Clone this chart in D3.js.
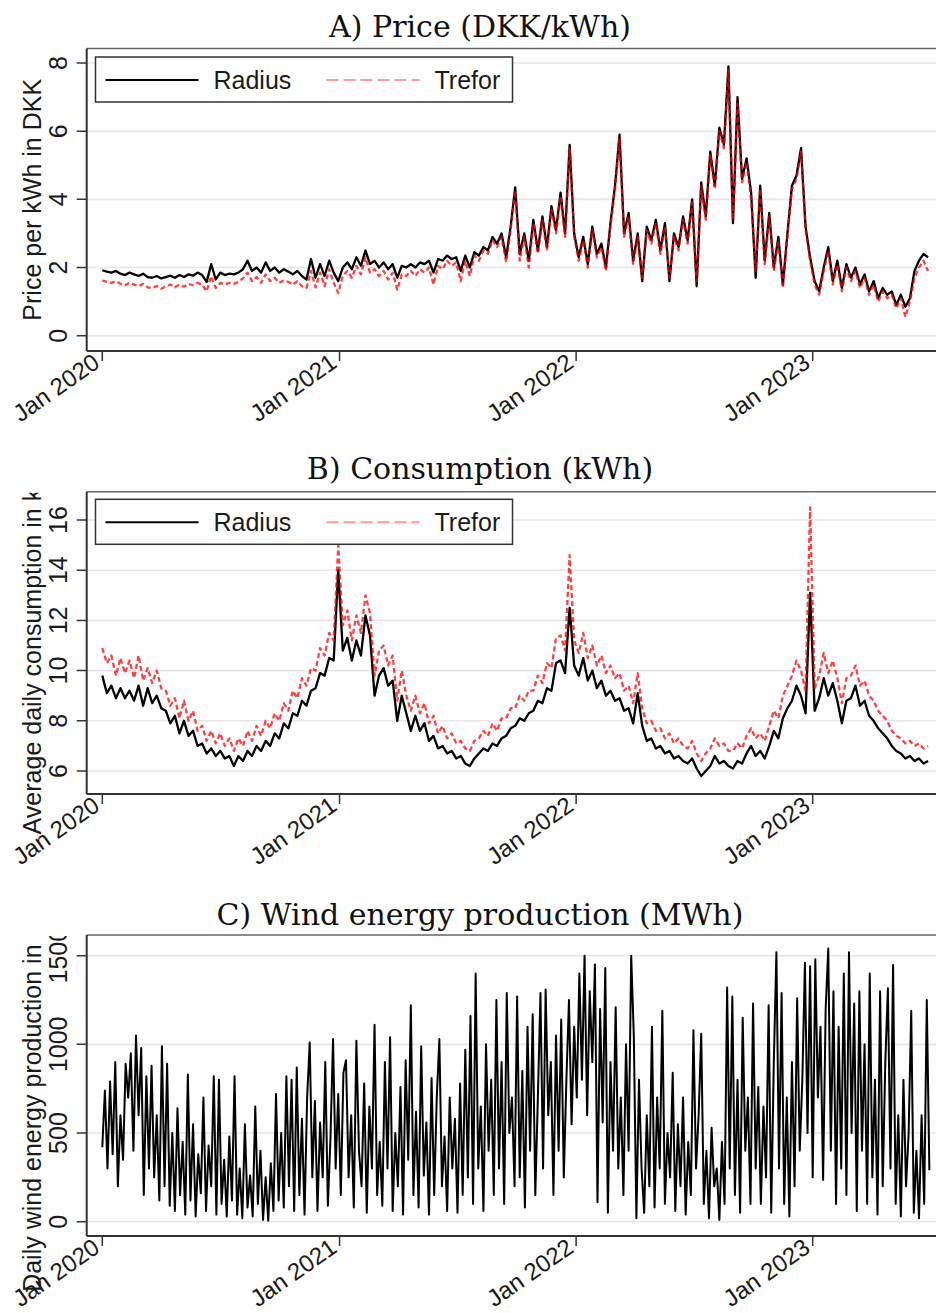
<!DOCTYPE html>
<html>
<head>
<meta charset="utf-8">
<script src="https://cdn.jsdelivr.net/npm/d3@7"></script>
<style>
  body { margin: 0; background: #fff; }
  svg { display: block; }
</style>
</head>
<body>
<svg id="chart" width="936" height="1313"></svg>
<script>
// Three stacked Stata-style panels: price, consumption, wind. Values read off the
// reference by eye: price / consumption sampled weekly, wind every 4 days.

const START = Date.UTC(2020, 0, 1);
const WEEK = 7, WIND_STEP = 4;

const yearTicks = [2020, 2021, 2022, 2023];
const priceTicks = [0, 2, 4, 6, 8];
const consTicks = [6, 8, 10, 12, 14, 16];
const windTicks = [0, 500, 1000, 1500];
const seriesNames = ["Radius", "Trefor"];

// A) price, DKK/kWh, weekly from 1 Jan 2020
const priceRadius = [
  1.92,1.88,1.85,1.9,1.82,1.78,1.85,1.8,1.75,1.82,1.72,
  1.7,1.75,1.68,1.72,1.76,1.7,1.78,1.72,1.8,1.76,
  1.85,1.78,1.58,2.1,1.65,1.85,1.78,1.82,1.8,1.85,
  1.95,2.2,1.9,2.0,1.85,2.15,1.9,2.0,1.85,1.95,
  1.88,1.8,1.9,1.75,1.65,2.25,1.7,2.1,1.75,2.2,
  1.85,1.6,2.0,2.15,1.95,2.3,2.05,2.5,2.1,2.2,
  2.0,2.15,1.95,2.1,1.7,2.05,2.0,2.1,2.0,2.15,
  2.1,2.2,1.85,2.25,2.2,2.35,2.25,2.3,1.9,2.35,
  2.0,2.45,2.35,2.6,2.5,2.9,2.7,3.0,2.3,3.2,
  4.35,2.4,3.0,2.2,3.4,2.5,3.5,2.6,3.8,3.1,
  4.2,3.0,5.6,3.0,2.3,2.9,2.1,3.2,2.4,2.7,
  2.0,3.3,4.4,5.9,3.0,3.6,2.2,3.0,1.6,3.2,
  2.8,3.4,2.5,3.3,1.6,3.0,2.6,3.5,2.8,4.0,
  1.45,4.5,3.5,5.4,4.4,6.1,5.6,7.9,3.3,7.0,
  4.6,5.2,4.2,1.7,4.4,2.2,3.6,2.0,2.9,1.5,
  3.0,4.4,4.7,5.5,3.2,2.3,1.6,1.3,2.0,2.6,
  1.6,2.2,1.4,2.1,1.7,2.0,1.5,1.8,1.3,1.6,
  1.1,1.4,1.2,1.3,0.9,1.2,0.85,1.1,1.9,2.2,2.4,2.3
];
const priceTrefor = [
  1.62,1.58,1.55,1.6,1.52,1.48,1.55,1.5,1.45,1.52,1.42,
  1.4,1.46,1.38,1.45,1.5,1.42,1.5,1.44,1.52,1.48,
  1.55,1.5,1.3,1.75,1.4,1.55,1.5,1.55,1.52,1.58,
  1.68,1.85,1.6,1.72,1.55,1.8,1.6,1.7,1.55,1.62,
  1.58,1.5,1.6,1.45,1.4,1.9,1.42,1.85,1.45,1.95,
  1.55,1.25,1.75,1.9,1.7,2.05,1.8,2.3,1.85,1.95,
  1.75,1.9,1.65,1.85,1.35,1.8,1.75,1.9,1.75,1.95,
  1.85,2.0,1.5,2.05,1.95,2.2,2.05,2.15,1.6,2.2,
  1.75,2.35,2.2,2.5,2.4,2.8,2.6,2.9,2.15,3.1,
  4.25,2.2,2.9,2.0,3.3,2.4,3.4,2.5,3.7,3.0,
  4.1,2.9,5.5,2.9,2.2,2.8,2.0,3.1,2.3,2.6,
  1.9,3.2,4.3,5.8,2.9,3.5,2.1,2.9,1.7,3.1,
  2.7,3.3,2.4,3.2,1.7,2.9,2.5,3.4,2.7,3.9,
  1.6,4.4,3.4,5.3,4.3,6.0,5.5,7.8,3.4,6.8,
  4.5,5.1,4.0,1.9,4.3,2.1,3.5,1.9,2.8,1.4,
  2.9,4.3,4.6,5.4,3.1,2.2,1.5,1.2,1.9,2.5,
  1.5,2.1,1.3,2.0,1.6,1.9,1.4,1.7,1.2,1.5,
  1.0,1.3,1.1,1.2,0.8,1.1,0.55,1.0,1.7,2.0,2.2,1.9
];

// B) average daily consumption, kWh, weekly
const consRadius = [
  9.8,9.1,9.4,8.9,9.3,8.9,9.2,8.8,9.4,8.6,9.3,
  8.7,9.0,8.5,8.4,7.9,8.2,7.5,8.0,7.4,7.6,
  7.0,7.1,6.7,6.9,6.6,6.8,6.5,6.6,6.2,6.6,
  6.4,6.8,6.6,7.0,6.8,7.2,7.0,7.5,7.3,7.9,
  7.7,8.3,8.2,8.8,8.6,9.2,9.3,9.9,9.8,10.5,
  10.4,14.0,10.8,11.3,10.4,11.2,10.6,12.2,11.4,9.0,
  9.8,10.1,9.4,9.6,8.0,9.0,8.3,7.6,8.2,7.6,
  7.9,7.2,7.4,6.9,7.0,6.7,6.8,6.5,6.6,6.3,
  6.2,6.5,6.7,6.9,6.8,7.1,7.0,7.3,7.4,7.7,
  7.8,8.1,8.0,8.3,8.4,8.8,8.7,9.3,9.2,10.3,
  10.4,9.9,12.5,10.2,9.8,10.5,9.6,10.0,9.3,9.6,
  9.0,9.2,8.8,8.9,8.4,8.5,7.9,9.1,7.8,7.2,
  7.3,6.9,7.0,6.7,6.8,6.5,6.6,6.4,6.3,6.5,
  6.1,5.8,6.0,6.2,6.6,6.3,6.4,6.2,6.1,6.4,
  6.3,6.7,7.0,6.6,6.8,6.5,7.0,7.6,7.3,8.1,
  8.5,8.8,9.4,9.0,8.3,13.1,8.4,8.9,9.7,9.0,
  9.5,8.8,7.9,8.8,8.9,9.4,8.6,8.8,8.2,8.0,
  7.7,7.5,7.3,7.0,6.8,6.7,6.5,6.6,6.4,6.5,6.3,6.4
];
const consTrefor = [
  10.9,10.3,10.6,9.8,10.5,9.9,10.4,9.7,10.6,9.6,10.1,
  9.5,10.0,9.3,9.2,8.6,8.9,8.1,8.8,8.0,8.4,
  7.6,7.8,7.2,7.6,7.1,7.5,7.0,7.3,6.8,7.3,
  7.0,7.6,7.2,7.8,7.4,8.0,7.7,8.3,8.0,8.7,
  8.4,9.2,8.9,9.7,9.4,10.1,10.0,10.9,10.6,11.5,
  11.2,15.0,11.8,12.4,11.2,12.2,11.5,13.0,12.3,9.8,
  10.8,11.0,10.2,10.6,8.8,10.0,9.0,8.4,9.0,8.3,
  8.7,7.9,8.2,7.5,7.8,7.3,7.5,7.1,7.2,6.9,
  6.8,7.2,7.3,7.6,7.4,7.9,7.6,8.1,8.1,8.5,
  8.5,9.0,8.8,9.2,9.2,9.8,9.5,10.3,10.1,11.3,
  11.4,10.8,14.6,11.2,10.7,11.5,10.5,11.0,10.2,10.6,
  9.9,10.2,9.7,9.9,9.2,9.4,8.7,9.9,8.5,7.9,
  8.0,7.6,7.7,7.3,7.5,7.1,7.3,7.0,6.9,7.2,
  6.7,6.4,6.7,6.9,7.3,7.0,7.1,6.8,6.8,7.1,
  6.9,7.4,7.7,7.3,7.5,7.2,7.8,8.4,8.1,9.0,
  9.4,9.8,10.4,10.0,9.2,16.5,9.3,9.8,10.7,9.9,
  10.4,9.7,8.7,9.7,9.8,10.2,9.4,9.6,9.0,8.8,
  8.4,8.2,8.0,7.6,7.4,7.3,7.1,7.2,7.0,7.1,6.9,7.0
];

// C) daily wind energy production, MWh, one reading every 4 days
const wind = [
  420,740,300,790,380,900,200,600,350,890,
  700,950,400,1050,600,980,150,820,300,880,
  250,600,120,990,200,890,90,500,60,640,
  150,450,40,830,120,550,30,380,160,700,
  60,430,200,820,40,800,100,350,30,480,
  120,820,40,300,20,550,80,260,30,650,
  100,400,10,250,5,330,60,720,120,500,
  80,820,200,800,60,870,150,580,40,700,
  1010,250,680,60,560,250,900,90,470,1030,
  300,720,150,840,910,250,600,80,1020,400,
  200,780,50,650,300,1110,150,450,90,900,
  300,1040,60,500,200,760,40,910,350,1220,
  150,620,80,990,260,560,40,810,150,700,
  1030,200,480,60,700,300,580,50,780,150,
  970,250,1160,100,1400,300,650,60,1000,400,
  800,150,1250,300,900,100,1290,500,700,200,
  1270,250,850,80,1100,400,1170,150,700,1290,
  300,1310,600,900,150,1050,400,1140,250,800,
  1250,550,1100,700,1400,800,1500,600,1300,900,
  1450,110,1200,560,1430,50,900,400,1210,300,
  700,150,1000,400,1500,1050,20,800,300,50,
  600,200,1100,80,700,300,1190,100,500,250,
  840,60,550,200,700,40,450,150,1080,300,
  600,1060,100,400,20,530,200,300,10,450,
  100,1320,300,1270,150,800,50,1150,400,700,
  100,1230,300,760,100,650,250,1220,50,900,
  1520,300,1290,100,700,30,900,200,1260,400,
  800,1460,500,1440,250,1480,700,1100,235,1200,
  1540,400,1300,100,1100,300,1400,150,1520,500,
  1230,60,1300,400,1000,100,1400,250,800,40,
  1300,200,900,1316,300,1448,100,600,30,800,
  200,500,1190,50,400,20,600,100,1250,290
];

const W = 936, H = 1313;
const LEFT = 86.7, RIGHT = 960;
const SANS = "'Liberation Sans', Arial, sans-serif";
const SERIF = "'DejaVu Serif', serif";
const INK = "#1a1a1a";

const svg = d3.select("#chart").attr("viewBox", `0 0 ${W} ${H}`);
svg.append("rect").attr("width", W).attr("height", H).attr("fill", "#fff");
const defs = svg.append("defs");

const x = d3.scaleUtc()
  .domain([new Date(Date.UTC(2020, 0, 1)), new Date(Date.UTC(2023, 0, 1))])
  .range([102.3, 812.7]);

const toPoints = (vals, step) => vals.map((v, i) => ({ date: new Date(START + i * step * 864e5), v }));

const panels = [
  {
    id: "a", title: "A) Price (DKK/kWh)", titleY: 36.7, top: 48.5, bottom: 351,
    domain: [0, 8], range: [335.7, 63], ticks: priceTicks, legendTop: 57,
    yTitle: "Price per kWh in DKK",
    series: [
      { vals: priceRadius, step: WEEK, kind: "radius" },
      { vals: priceTrefor, step: WEEK, kind: "trefor" },
    ],
  },
  {
    id: "b", title: "B) Consumption (kWh)", titleY: 479, top: 491.7, bottom: 794,
    domain: [6, 16], range: [771, 520], ticks: consTicks, legendTop: 499.3,
    yTitle: "Average daily consumption in kWh",
    series: [
      { vals: consRadius, step: WEEK, kind: "radius" },
      { vals: consTrefor, step: WEEK, kind: "trefor" },
    ],
  },
  {
    id: "c", title: "C) Wind energy production (MWh)", titleY: 925, top: 935, bottom: 1236,
    domain: [0, 1500], range: [1221.7, 955.7], ticks: windTicks, legendTop: null,
    yTitle: "Daily wind energy production in MWh",
    series: [{ vals: wind, step: WIND_STEP, kind: "wind" }],
  },
];

const styles = {
  radius: { stroke: "#000", width: 2.3, opacity: 1, dash: null },
  trefor: { stroke: "#ff0000", width: 2.3, opacity: 0.75, dash: "5 3" },
  wind: { stroke: "#000", width: 2, opacity: 1, dash: null },
};

panels.forEach((p) => {
  const y = d3.scaleLinear().domain(p.domain).range(p.range);
  const g = svg.append("g");

  // clip areas: plot region and the left margin (Stata cuts overlong axis text at the plot top)
  defs.append("clipPath").attr("id", `plot-${p.id}`)
    .append("rect").attr("x", LEFT).attr("y", p.top).attr("width", RIGHT - LEFT).attr("height", p.bottom - p.top);
  defs.append("clipPath").attr("id", `margin-${p.id}`)
    .append("rect").attr("x", 0).attr("y", p.top + 1).attr("width", LEFT).attr("height", H - p.top);

  // title
  g.append("text")
    .attr("x", 480).attr("y", p.titleY)
    .attr("text-anchor", "middle")
    .attr("font-family", SERIF).attr("font-size", 30).attr("fill", "#111")
    .text(p.title);

  // gridlines
  g.append("g").selectAll("line").data(p.ticks).join("line")
    .attr("x1", LEFT).attr("x2", RIGHT)
    .attr("y1", (d) => y(d)).attr("y2", (d) => y(d))
    .attr("stroke", "#e6e6e6").attr("stroke-width", 1.6);

  // data
  const line = d3.line().x((d) => x(d.date)).y((d) => y(d.v));
  const gData = g.append("g").attr("clip-path", `url(#plot-${p.id})`);
  p.series.forEach((s) => {
    const st = styles[s.kind];
    gData.append("path")
      .datum(toPoints(s.vals, s.step))
      .attr("d", line)
      .attr("fill", "none")
      .attr("stroke", st.stroke)
      .attr("stroke-width", st.width)
      .attr("stroke-opacity", st.opacity)
      .attr("stroke-linejoin", "round")
      .attr("stroke-dasharray", st.dash);
  });

  // frame: grey top edge, dark axis lines
  g.append("line").attr("x1", LEFT).attr("x2", RIGHT).attr("y1", p.top).attr("y2", p.top)
    .attr("stroke", "#666").attr("stroke-width", 1.5);
  g.append("line").attr("x1", LEFT).attr("x2", LEFT).attr("y1", p.top).attr("y2", p.bottom)
    .attr("stroke", "#333").attr("stroke-width", 2);
  g.append("line").attr("x1", LEFT).attr("x2", RIGHT).attr("y1", p.bottom).attr("y2", p.bottom)
    .attr("stroke", "#333").attr("stroke-width", 2);

  // y ticks + rotated labels
  const gm = g.append("g").attr("clip-path", `url(#margin-${p.id})`);
  gm.selectAll("line").data(p.ticks).join("line")
    .attr("x1", LEFT - 10).attr("x2", LEFT)
    .attr("y1", (d) => y(d)).attr("y2", (d) => y(d))
    .attr("stroke", "#333").attr("stroke-width", 1.5);
  gm.selectAll("text.tick").data(p.ticks).join("text")
    .attr("class", "tick")
    .attr("transform", (d) => `translate(67,${y(d)}) rotate(-90)`)
    .attr("text-anchor", "middle")
    .attr("font-family", SANS).attr("font-size", 25).attr("fill", INK)
    .text((d) => d);
  gm.append("text")
    .attr("transform", `translate(41,${(p.top + p.bottom) / 2}) rotate(-90)`)
    .attr("text-anchor", "middle")
    .attr("font-family", SANS).attr("font-size", 25).attr("fill", INK)
    .text(p.yTitle);

  // x ticks + rotated labels
  const gx = g.append("g");
  const tickDates = yearTicks.map((yr) => new Date(Date.UTC(yr, 0, 1)));
  gx.selectAll("line").data(tickDates).join("line")
    .attr("x1", (d) => x(d)).attr("x2", (d) => x(d))
    .attr("y1", p.bottom).attr("y2", p.bottom + 10)
    .attr("stroke", "#333").attr("stroke-width", 1.5);
  gx.selectAll("text").data(tickDates).join("text")
    .attr("transform", (d) => `translate(${x(d) - 1},${p.bottom + 15}) rotate(-35)`)
    .attr("text-anchor", "end")
    .attr("font-family", SANS).attr("font-size", 24).attr("fill", INK)
    .text((d) => d3.utcFormat("%b %Y")(d));

  // legend
  if (p.legendTop != null) {
    const lg = g.append("g").attr("transform", `translate(95.5,${p.legendTop})`);
    lg.append("rect").attr("width", 417).attr("height", 45)
      .attr("fill", "#fff").attr("stroke", "#333").attr("stroke-width", 1.5);
    const items = [
      { name: seriesNames[0], x0: 10, st: styles.radius, dash: null, op: 1 },
      { name: seriesNames[1], x0: 231, st: styles.trefor, dash: "12 5", op: 0.4 },
    ];
    items.forEach((it) => {
      lg.append("line").attr("x1", it.x0).attr("x2", it.x0 + 93).attr("y1", 23).attr("y2", 23)
        .attr("stroke", it.st.stroke).attr("stroke-width", 2)
        .attr("stroke-opacity", it.op).attr("stroke-dasharray", it.dash);
      lg.append("text").attr("x", it.x0 + 108).attr("y", 32)
        .attr("font-family", SANS).attr("font-size", 25).attr("fill", INK)
        .text(it.name);
    });
  }
});
</script>
</body>
</html>
